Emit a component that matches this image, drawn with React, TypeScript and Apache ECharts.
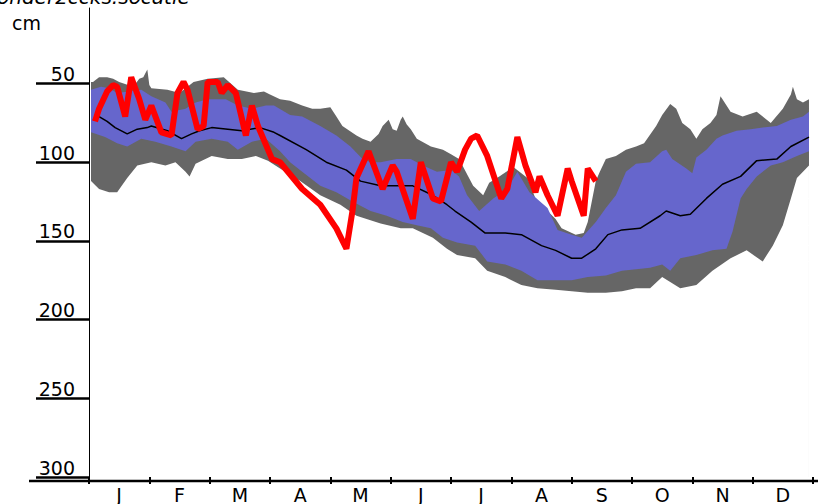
import React, { useEffect, useRef } from "react";
import * as echarts from "echarts";

const months = ["J", "F", "M", "A", "M", "J", "J", "A", "S", "O", "N", "D"];
const yTickValues = [50, 100, 150, 200, 250, 300];

// [day of year (30-day months), cm below surface]
const grayTop: [number, number][] = [
  [1, 49], [2, 49], [5, 46], [9, 46], [12, 47], [15, 49], [22, 52], [25, 47], [27, 46], [29, 41],
  [30, 51], [31, 53], [39, 54], [45, 56], [52, 49], [59, 47], [67, 46], [74, 54], [82, 56], [87, 55],
  [90, 57], [95, 60], [100, 61], [106, 64], [111, 66], [115, 66], [120, 65], [123, 71], [126, 77],
  [133, 83], [136, 85], [140, 87], [144, 82], [146, 77], [149, 73], [151, 79], [153, 80], [155, 73],
  [156, 71], [158, 76], [160, 79], [163, 85], [170, 90], [176, 92], [180, 95], [184, 98], [191, 115],
  [196, 121], [199, 113], [204, 109], [211, 103], [218, 110], [222, 123], [225, 127], [228, 131],
  [232, 136], [235, 142], [242, 146], [246, 145], [248, 138], [252, 112], [254, 106], [257, 98],
  [262, 96], [267, 92], [272, 90], [276, 88], [282, 77], [285, 70], [289, 63], [292, 66], [295, 75],
  [299, 79], [302, 85], [305, 79], [309, 75], [312, 70], [314, 58], [315, 60], [317, 64], [319, 68],
  [325, 71], [332, 68], [339, 75], [345, 66], [349, 57], [350, 52], [352, 60], [355, 62], [358, 60],
];

const blueTop: [number, number][] = [
  [1, 54], [6, 52], [10, 53], [14, 56], [20, 55], [26, 54], [31, 58], [38, 62], [41, 68], [48, 66],
  [53, 62], [59, 60], [68, 60], [74, 64], [81, 66], [88, 64], [92, 64], [100, 70], [106, 71],
  [115, 77], [123, 83], [130, 90], [136, 98], [140, 100], [145, 100], [153, 98], [160, 98],
  [166, 102], [173, 106], [180, 105], [184, 109], [188, 121], [194, 131], [201, 123], [208, 117],
  [213, 106], [219, 119], [228, 129], [233, 143], [240, 146], [245, 148], [252, 138], [257, 129],
  [262, 121], [267, 106], [272, 101], [279, 100], [285, 93], [287, 92], [290, 98], [297, 104],
  [300, 107], [302, 97], [307, 92], [312, 85], [315, 83], [322, 80], [329, 79], [335, 78],
  [342, 77], [349, 73], [355, 71], [358, 68],
];

const median: [number, number][] = [
  [2, 73], [5, 71], [9, 74], [13, 78], [19, 82], [24, 79], [29, 78], [31, 77], [39, 80], [46, 85],
  [51, 82], [55, 80], [61, 78], [69, 79], [76, 80], [85, 78], [92, 81], [95, 83], [108, 92],
  [118, 100], [128, 105], [135, 112], [145, 115], [155, 115], [161, 115], [171, 121], [178, 127],
  [182, 131], [190, 138], [197, 145], [207, 145], [215, 146], [225, 153], [232, 156], [240, 161],
  [245, 161], [252, 155], [258, 146], [265, 143], [274, 142], [284, 134], [287, 131], [294, 134],
  [299, 133], [307, 123], [315, 114], [324, 109], [332, 99], [342, 98], [349, 90], [358, 84],
];

const blueBottom: [number, number][] = [
  [1, 81], [8, 84], [14, 88], [19, 90], [26, 85], [33, 87], [41, 90], [48, 93], [53, 87], [61, 85],
  [69, 87], [74, 92], [81, 87], [88, 85], [95, 93], [100, 100], [106, 106], [115, 115], [123, 119],
  [131, 125], [140, 131], [148, 134], [156, 138], [163, 140], [170, 142], [176, 148], [183, 151],
  [192, 153], [198, 163], [207, 165], [215, 169], [223, 175], [232, 175], [240, 175], [248, 173],
  [257, 172], [265, 169], [272, 168], [279, 167], [285, 165], [289, 169], [294, 161], [302, 159],
  [310, 156], [317, 155], [320, 144], [324, 123], [327, 117], [332, 109], [339, 102], [345, 100],
  [352, 96], [358, 93],
];

const grayBottom: [number, number][] = [
  [1, 112], [5, 117], [10, 119], [14, 119], [19, 110], [24, 102], [31, 100], [38, 102], [43, 100],
  [48, 106], [50, 109], [53, 101], [61, 96], [69, 98], [76, 98], [83, 96], [89, 99], [95, 104],
  [105, 112], [115, 121], [125, 127], [133, 134], [145, 139], [155, 142], [161, 142], [171, 148],
  [178, 155], [183, 159], [192, 161], [198, 169], [207, 173], [215, 178], [223, 180], [232, 181],
  [240, 182], [248, 183], [257, 183], [265, 182], [272, 180], [279, 180], [285, 173], [294, 180],
  [302, 178], [310, 169], [319, 161], [327, 156], [335, 163], [340, 153], [345, 140], [349, 123],
  [352, 110], [358, 102],
];

const currentYear: [number, number][] = [
  [3, 74], [5, 66], [9, 55], [12, 51], [14, 52], [18, 71], [21, 46], [25, 60], [28, 73], [31, 64],
  [36, 81], [41, 83], [44, 56], [47, 49], [49, 54], [54, 79], [57, 77], [59, 49], [64, 49], [66, 56],
  [69, 51], [73, 56], [78, 83], [81, 64], [84, 77], [91, 98], [95, 100], [106, 117], [115, 127],
  [123, 142], [128, 155], [131, 131], [133, 110], [139, 93], [146, 117], [151, 102], [153, 106],
  [161, 136], [165, 100], [171, 123], [175, 125], [180, 100], [183, 106], [187, 92], [190, 85],
  [193, 83], [198, 96], [205, 123], [208, 117], [213, 84], [217, 102], [222, 119], [224, 109],
  [228, 121], [233, 134], [238, 104], [240, 112], [246, 134], [248, 104], [252, 112],
];

const FONT = "'DejaVu Sans', sans-serif";

function band(name: string, data: [number, number][], color: string, z: number) {
  return {
    name,
    type: "line",
    xAxisIndex: 1,
    data,
    symbol: "none",
    z,
    lineStyle: { width: 0, color },
    areaStyle: { color, opacity: 1, origin: "end" },
    silent: true,
  };
}

export default function App() {
  const ref = useRef<HTMLDivElement>(null);
  useEffect(() => {
    const chart = echarts.init(ref.current!, null, { renderer: "svg" });
    chart.setOption({
      animation: false,
      backgroundColor: "#ffffff",
      grid: { left: 89, right: 6, top: 8, bottom: 23, containLabel: false },
      xAxis: [
        {
          type: "category",
          data: months,
          boundaryGap: true,
          axisLine: { show: false },
          axisTick: { show: true, length: 7, lineStyle: { color: "#000", width: 2 } },
          axisLabel: { color: "#000", fontSize: 19, fontFamily: FONT, margin: 8 },
          splitLine: { show: false },
          z: 10,
        },
        {
          type: "value",
          min: 0,
          max: 360,
          show: false,
          splitLine: { show: false },
        },
      ],
      yAxis: {
        type: "value",
        inverse: true,
        min: 2,
        max: 300,
        axisLine: { show: true, lineStyle: { color: "#000", width: 1 } },
        axisTick: {
          show: true,
          length: 53,
          customValues: yTickValues,
          lineStyle: { color: "#000", width: 2.5 },
        },
        axisLabel: {
          show: true,
          customValues: yTickValues,
          color: "#000",
          fontSize: 19,
          fontFamily: FONT,
          margin: 14,
          verticalAlign: "bottom",
        },
        splitLine: { show: false },
        z: 10,
      },
      graphic: [
        {
          type: "line",
          z: 100,
          shape: { x1: 29, y1: 481, x2: 818, y2: 481 },
          style: { stroke: "#000", lineWidth: 2.5 },
        },
        {
          type: "text",
          z: 100,
          x: 12,
          y: 13,
          style: { text: "cm", fill: "#000", font: `19px ${FONT}` },
        },
        {
          type: "text",
          z: 100,
          x: -3,
          y: -13,
          style: { text: "onder2ccks.socatie", fill: "#000", font: `italic 20px ${FONT}` },
        },
      ],
      series: [
        band("max", grayTop, "#666666", 1),
        band("p90", blueTop, "#6666cc", 2),
        band("p10", blueBottom, "#666666", 3),
        band("min", grayBottom, "#ffffff", 4),
        {
          name: "mediaan",
          type: "line",
          xAxisIndex: 1,
          data: median,
          symbol: "none",
          z: 5,
          lineStyle: { color: "#000", width: 1.5 },
        },
        {
          name: "huidig jaar",
          type: "line",
          xAxisIndex: 1,
          data: currentYear,
          symbol: "none",
          z: 6,
          lineStyle: { color: "#ff0000", width: 6 },
        },
      ],
    });
    return () => chart.dispose();
  }, []);
  return (
    <div
      ref={ref}
      style={{ position: "fixed", left: 0, top: 0, width: 819, height: 504, background: "#fff" }}
    />
  );
}
